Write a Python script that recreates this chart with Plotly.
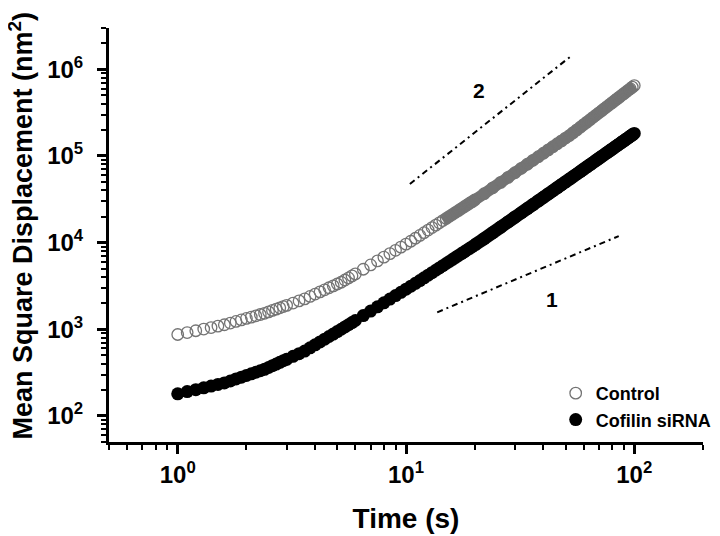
import math
import plotly.graph_objects as go

# ---- data ----
time_s = [1.0, 1.1, 1.2, 1.3, 1.4, 1.5, 1.6, 1.7, 1.8, 1.9, 2.0, 2.1, 2.2, 2.3, 2.4, 2.5, 2.6, 2.7, 2.8, 2.9, 3.0,
          3.2, 3.4, 3.6, 3.8, 4.0, 4.2, 4.4, 4.6, 4.8, 5.0, 5.2, 5.4, 5.6, 5.8, 6.0,
          6.5, 7.0, 7.5, 8.0, 8.5, 9.0, 9.5, 10, 10.5, 11, 11.5, 12, 12.5, 13, 13.5, 14, 14.5, 15,
          15.5, 16, 16.5, 17, 17.5, 18, 18.5, 19, 19.5, 20,
          22, 24, 26, 28, 30, 32, 34, 36, 38, 40, 42, 44, 46, 48, 50, 52, 54, 56, 58, 60,
          62, 64, 66, 68, 70, 72, 74, 76, 78, 80, 82, 84, 86, 88, 90, 92, 94, 96, 98, 100]

msd_control = [870, 917, 962, 1005, 1047, 1088, 1127, 1180, 1231, 1282, 1333, 1382, 1431, 1480, 1528,
               1588, 1648, 1708, 1768, 1828, 1888,
               2006, 2126, 2244, 2394, 2547, 2701, 2856, 3013, 3171, 3331, 3491, 3702, 3916, 4135, 4358,
               4932, 5531, 6157, 6802, 7469, 8160, 8875, 9607, 10378, 11233, 12116, 13025, 13958, 14918,
               15911, 16925, 17968, 19032, 20119, 21236, 22385, 23535, 24738, 25956, 27192, 28460, 29734, 31037,
               36710, 42940, 49600, 56670, 64160, 72060, 80390, 89070, 98180, 107700, 117600, 127900,
               138500, 149500, 160900, 172200, 185900, 200200, 214900, 230300,
               246100, 262500, 279300, 296800, 314900, 333300, 352400, 372000, 392200, 412900, 434100,
               456000, 478200, 501100, 524300, 548300, 572700, 597800, 623200, 649300]

msd_cofilin = [180, 191, 201, 211, 221, 231, 240, 253, 267, 280, 293, 306, 319, 332, 345,
               362, 380, 397, 415, 433, 450,
               487, 523, 560, 610, 661, 714, 769, 825, 881, 940, 1000, 1063, 1128, 1195, 1263,
               1439, 1624, 1817, 2020, 2229, 2446, 2673, 2905, 3147, 3395, 3650, 3926, 4209, 4500,
               4799, 5107, 5424, 5745, 6074, 6414, 6761, 7112, 7472, 7842, 8218, 8602, 8989, 9387,
               11110, 13040, 15110, 17320, 19650, 22130, 24740, 27480, 30340, 33360, 36470, 39740,
               43120, 46620, 50260, 54000, 57960, 61980, 66150, 70470,
               74870, 79420, 84080, 88880, 93830, 98830, 104000, 109300, 114700, 120200, 125900,
               131700, 137500, 143600, 149600, 155900, 162200, 168700, 175300, 182000]

series_names = ["Control", "Cofilin siRNA"]

# guide lines (slope 2 and slope 1) and their labels
guide2_t = [10.4, 53.5]
guide2_msd = [47500, 1460000]
guide1_t = [13.7, 85.5]
guide1_msd = [1570, 11900]
guide_labels = ["2", "1"]
guide_label_t = [20.8, 43.5]
guide_label_msd = [575000, 2220]

x_tickvals = [1, 10, 100]
x_ticktext = ["10<sup>0</sup>", "10<sup>1</sup>", "10<sup>2</sup>"]
y_tickvals = [1e2, 1e3, 1e4, 1e5, 1e6]
y_ticktext = ["10<sup>2</sup>", "10<sup>3</sup>", "10<sup>4</sup>", "10<sup>5</sup>", "10<sup>6</sup>"]
x_title = "Time (s)"
y_title = "Mean Square Displacement (nm<sup>2</sup>)"

FONT = "Arial, Liberation Sans, Helvetica, sans-serif"
GRAY = "#747474"

fig = go.Figure()

# dense overlapping markers in the reference merge into a solid band; a band of
# marker width drawn through the same points reproduces that look
i_ctrl = time_s.index(14.5)
i_cof = time_s.index(20)
fig.add_trace(go.Scatter(
    x=time_s[i_ctrl:], y=msd_control[i_ctrl:], mode="lines", showlegend=False, hoverinfo="skip",
    line=dict(color=GRAY, width=11.5, shape="spline", smoothing=0.6),
))
fig.add_trace(go.Scatter(
    x=time_s[i_cof:], y=msd_cofilin[i_cof:], mode="lines", showlegend=False, hoverinfo="skip",
    line=dict(color="black", width=13, shape="spline", smoothing=0.6),
))

fig.add_trace(go.Scatter(
    x=time_s, y=msd_control, mode="markers", name=series_names[0],
    marker=dict(symbol="circle-open", size=11.5, color=GRAY, line=dict(width=1.3, color=GRAY)),
    legendgroup="a",
))
fig.add_trace(go.Scatter(
    x=time_s, y=msd_cofilin, mode="markers", name=series_names[1],
    marker=dict(symbol="circle", size=13, color="#000000"),
    legendgroup="b",
))

for gx, gy in [(guide2_t, guide2_msd), (guide1_t, guide1_msd)]:
    fig.add_trace(go.Scatter(
        x=gx, y=gy, mode="lines", showlegend=False, hoverinfo="skip",
        line=dict(color="black", width=2, dash="6px,4px,2px,4px"),
    ))

for lab, lx, ly in zip(guide_labels, guide_label_t, guide_label_msd):
    fig.add_annotation(x=math.log10(lx), y=math.log10(ly), xref="x", yref="y", text=lab, showarrow=False,
                       font=dict(family=FONT, size=21, color="black", weight="bold"),
                       xanchor="center", yanchor="middle")

# y-axis title placed as a rotated annotation so it sits at the reference position
fig.add_annotation(x=-0.148, y=0.523, xref="paper", yref="paper", text=y_title, showarrow=False,
                   textangle=-90, xanchor="center", yanchor="middle",
                   font=dict(family=FONT, size=27, color="black", weight="bold"))

minor_x = [m * 10 ** k for k in range(-1, 3) for m in range(2, 10)]
minor_y = [m * 10 ** k for k in range(1, 7) for m in range(2, 10)]

axis_common = dict(
    type="log", automargin=False,
    showline=True, linecolor="black", linewidth=3,
    ticks="outside", ticklen=9, tickwidth=3, tickcolor="black",
    showgrid=False, zeroline=False, mirror=False,
    tickfont=dict(family=FONT, size=24, color="black", weight="bold"),
    title_font=dict(family=FONT, size=28, color="black", weight="bold"),
)

fig.update_xaxes(
    **axis_common,
    range=[-0.30103, 2.30103],
    tickmode="array", tickvals=x_tickvals, ticktext=x_ticktext,
    minor=dict(tickmode="array", tickvals=minor_x, ticks="outside", ticklen=5, tickwidth=2,
               tickcolor="black", showgrid=False),
    title_text=x_title, title_standoff=22,
)
fig.update_yaxes(
    **axis_common,
    range=[1.69897, 6.47712],
    tickmode="array", tickvals=y_tickvals, ticktext=y_ticktext,
    minor=dict(tickmode="array", tickvals=minor_y, ticks="outside", ticklen=5, tickwidth=2,
               tickcolor="black", showgrid=False),
    ticklabelstandoff=9,
)

# the page body adds an 8px offset, margins compensate for it
fig.update_layout(
    width=720, height=536,
    margin=dict(l=101, r=25, t=20, b=102, autoexpand=False),
    paper_bgcolor="white", plot_bgcolor="white",
    showlegend=True,
    legend=dict(
        x=0.752, y=0.162, xanchor="left", yanchor="top",
        bgcolor="rgba(0,0,0,0)", borderwidth=0,
        font=dict(family=FONT, size=18, color="black", weight="bold"),
        traceorder="grouped", tracegroupgap=0,
        itemsizing="trace",
    ),
    font=dict(family=FONT, color="black"),
)

fig.write_html("out.html")
